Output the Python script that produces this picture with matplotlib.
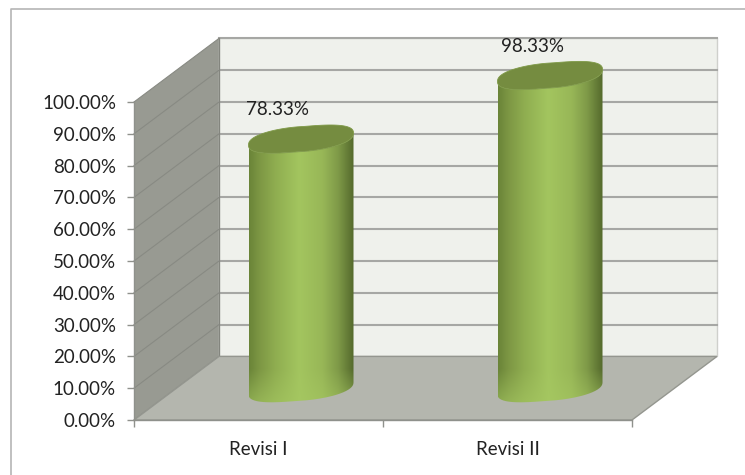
import numpy as np
import matplotlib
matplotlib.use("Agg")
import matplotlib.pyplot as plt
from matplotlib.patches import Polygon, PathPatch
from matplotlib.lines import Line2D
from matplotlib.path import Path
from matplotlib.colors import LinearSegmentedColormap, to_rgb

categories = ["Revisi I", "Revisi II"]
values = [78.33, 98.33]
value_labels = ["78.33%", "98.33%"]
y_ticks = [0, 10, 20, 30, 40, 50, 60, 70, 80, 90, 100]
y_tick_labels = ["0.00%", "10.00%", "20.00%", "30.00%", "40.00%", "50.00%",
                 "60.00%", "70.00%", "80.00%", "90.00%", "100.00%"]

W, H = 745, 475
plt.rcParams['font.family'] = ['Lato', 'DejaVu Sans']
fig = plt.figure(figsize=(W / 100, H / 100), dpi=100, facecolor='white')

# outer chart frame: only the left and top edges fall inside the crop
fig.add_artist(Line2D([10.5 / W, 10.5 / W, 1], [0, 1 - 8.5 / H, 1 - 8.5 / H],
                      transform=fig.transFigure, color='#b5b5b5', lw=1.2))

# axes: front plane
L, R, T, B = 134, 632, 102, 420
ax = fig.add_axes([L / W, 1 - B / H, (R - L) / W, (B - T) / H])
ax.set_xlim(0, 2)
ax.set_ylim(0, 100)
DX = 85 / ((R - L) / 2)   # depth in category units
DY = 20                   # depth in percent units

ax.patch.set_visible(False)
for s in ('top', 'right'):
    ax.spines[s].set_visible(False)
for s in ('left', 'bottom'):
    ax.spines[s].set_color('#8f918c')
    ax.spines[s].set_linewidth(1.0)

kw = dict(clip_on=False)
# side wall, back wall, floor
ax.add_patch(Polygon([(0, 0), (DX, DY), (DX, 100 + DY), (0, 100)], fc='#989a92', ec='none', zorder=1, **kw))
ax.add_patch(Polygon([(DX, DY), (2 + DX, DY), (2 + DX, 100 + DY), (DX, 100 + DY)],
                     fc='#eff1ec', ec='#cfd0cc', lw=1.0, zorder=1, **kw))
ax.add_patch(Polygon([(0, 0), (2, 0), (2 + DX, DY), (DX, DY)], fc='#b4b6ae', ec='#94968f', lw=1.0, zorder=1.5, **kw))

# gridlines on the walls
for v in y_ticks:
    if v > 0:
        ax.plot([DX, 2 + DX], [v + DY, v + DY], color='#a6a7a4', lw=1.5, zorder=1.2, **kw)
    ax.plot([0, DX], [v, v + DY], color='#888a83', lw=0.8, zorder=1.2, **kw)
ax.plot([DX, DX], [DY, 100 + DY], color='#83857e', lw=0.9, zorder=1.3, **kw)

# cylinders
cmap = LinearSegmentedColormap.from_list('cyl', [
    (0.0, '#6a8438'), (0.10, '#7d9744'), (0.25, '#8fad50'), (0.48, '#a3c55f'),
    (0.70, '#98b757'), (0.85, '#7f9a48'), (1.0, '#54692c')])
base = cmap(np.linspace(0, 1, 256))[:, :3]
half_w = 52.5 / ((R - L) / 2)
ell_tilt = 6 / 3.18    # percent units
ell_b = 12.5 / 3.18
light = np.array(to_rgb('#a6c862'))


def rounded(a, p=0.82):
    return np.sign(a) * np.abs(a) ** p


label_offsets = [(-17, 21), (-12.5, 21)]
t = np.linspace(0, 2 * np.pi, 181)
for i, v in enumerate(values):
    cx = i + 0.5 + DX / 2
    y0 = DY / 2
    y1 = v + DY / 2
    tt = np.linspace(np.pi, 2 * np.pi, 91)   # lower half, left to right
    low_x = cx + half_w * rounded(np.cos(tt))
    low_y = y0 + ell_tilt * np.cos(tt) + ell_b * rounded(np.sin(tt))
    top_x = low_x[::-1]
    top_y = y1 + ell_tilt * np.cos(tt[::-1]) + ell_b * rounded(np.sin(tt[::-1]))
    clip = PathPatch(Path(np.c_[np.r_[low_x, top_x], np.r_[low_y, top_y]]),
                     transform=ax.transData, fc='none', ec='none')
    ax.add_patch(clip)
    ylo, yhi = y0 - 20, y1 + 20
    rows = np.linspace(yhi, ylo, 400)
    blend = np.clip((y0 + 6 - rows) / 10, 0, 1)[:, None, None] * 0.55
    img = base[None, :, :] * (1 - blend) + light * blend
    im = ax.imshow(img, extent=(cx - half_w, cx + half_w, ylo, yhi), aspect='auto',
                   zorder=3, interpolation='bilinear')
    im.set_clip_box(fig.bbox)
    im.set_clip_path(clip)
    ax.fill(cx + half_w * rounded(np.cos(t)), y1 + ell_tilt * np.cos(t) + ell_b * rounded(np.sin(t)),
            fc='#758c40', ec='#7f9a48', lw=0.6, zorder=4, clip_on=False)
    ax.annotate(value_labels[i], (cx, y1), xytext=label_offsets[i], textcoords='offset points',
                ha='center', va='center', fontsize=13.5, color='#222222', zorder=5, annotation_clip=False)

ax.set_xlim(0, 2)
ax.set_ylim(0, 100)
ax.set_yticks(y_ticks)
ax.set_yticklabels(y_tick_labels, fontsize=13.5, color='#222222')
ax.set_xticks([0, 1, 2])
ax.set_xticklabels([])
ax.set_xticks([0.5, 1.5], minor=True)
ax.set_xticklabels(categories, minor=True, fontsize=13.5, color='#222222')
ax.tick_params(axis='x', which='minor', length=0, pad=15)
ax.tick_params(axis='both', which='major', length=5, width=1, color='#8f918c')
ax.tick_params(axis='y', pad=8)

fig.savefig('out.png', dpi=100)
